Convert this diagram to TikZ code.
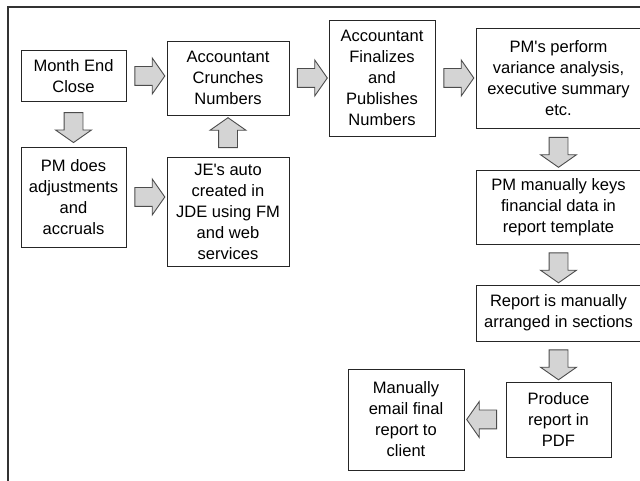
\documentclass[tikz,border=0pt]{standalone}
\usepackage{fontspec}
\setmainfont{Liberation Sans}
\usetikzlibrary{shapes.arrows}

\newdimen\px \px=0.75pt

\begin{document}
\begin{tikzpicture}[x=0.75pt, y=-0.75pt,
  box/.style={draw=black!85, line width=0.9\px, align=center, inner sep=0pt,
    font=\fontsize{12.4}{15.75}\selectfont},
  fatarrow/.style={single arrow, draw=black!70, fill=black!17, line width=0.9\px,
    minimum height=30\px, inner sep=9\px, single arrow head extend=8.5\px,
    single arrow tip angle=110, sloped, allow upside down}]
  \useasboundingbox (0,0) rectangle (640,481);

  % Outer frame (open to the right and bottom)
  \draw[line width=1.3\px, black!80] (8,490) -- (8,7) -- (650,7);

  % Left column and top row
  \node[box, minimum width=105\px, minimum height=51\px] (close) at (73.5,76) {Month End\\Close};
  \node[box, minimum width=122\px, minimum height=74\px] (crunch) at (228,78) {Accountant\\Crunches\\Numbers};
  \node[box, minimum width=106\px, minimum height=116\px] (final) at (382,78) {Accountant\\Finalizes\\and\\Publishes\\Numbers};
  \node[box, minimum width=165\px, minimum height=100\px] (perform) at (558.5,78) {PM\textquotesingle s perform\\variance analysis,\\executive summary\\etc.};
  \node[box, minimum width=105\px, minimum height=100\px] (adjust) at (73.5,197) {PM does\\adjustments\\and\\accruals};
  \node[box, minimum width=122\px, minimum height=109\px] (jeauto) at (228,211.5) {JE\textquotesingle s auto\\created in\\JDE using FM\\and web\\services};

  % Right column, going down
  \node[box, minimum width=165\px, minimum height=74\px] (keys) at (558.5,207) {PM manually keys\\financial data in\\report template};
  \node[box, minimum width=165\px, minimum height=56\px] (arrange) at (558.5,313) {Report is manually\\arranged in sections};
  \node[box, minimum width=105\px, minimum height=75\px] (produce) at (558.5,419.5) {Produce\\report in\\PDF};
  \node[box, minimum width=116\px, minimum height=101\px] (email) at (406,419.5) {Manually\\email final\\report to\\client};

  % Block arrows between the steps
  \path (close.east) -- node[fatarrow] {} (close.east -| crunch.west);
  \path (crunch.east) -- node[fatarrow] {} (final.west);
  \path (final.east) -- node[fatarrow] {} (perform.west);
  \path (close.south) -- node[fatarrow] {} (adjust.north);
  \path (adjust.east) -- node[fatarrow] {} (adjust.east -| jeauto.west);
  \path (jeauto.north) -- node[fatarrow] {} (crunch.south);
  \path (perform.south) -- node[fatarrow] {} (keys.north);
  \path (keys.south) -- node[fatarrow] {} (arrange.north);
  \path (arrange.south) -- node[fatarrow] {} (produce.north);
  \path (produce.west) -- node[fatarrow] {} (email.east);
\end{tikzpicture}
\end{document}
